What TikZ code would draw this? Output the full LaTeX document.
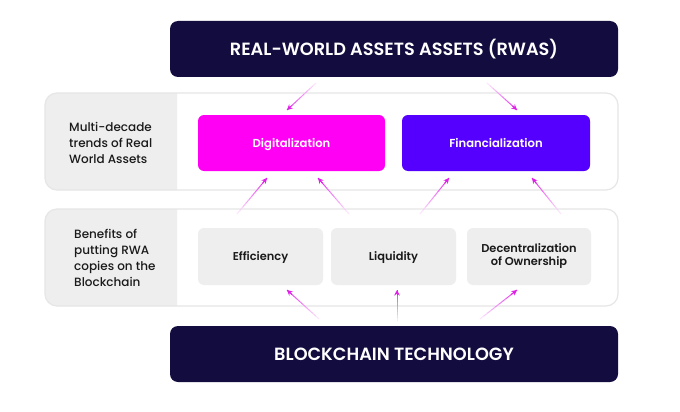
\documentclass[tikz,border=0pt]{standalone}
\usepackage{fontspec}
\setmainfont{Poppins}
\newfontfamily\pmed{Poppins Medium}
\newfontfamily\psemi{Poppins SemiBold}
\usetikzlibrary{arrows.meta,calc}
\definecolor{navy}{HTML}{130C3E}
\definecolor{magen}{HTML}{FF00F5}
\definecolor{violet}{HTML}{5500FF}
\definecolor{greyb}{HTML}{EEEEEE}
\definecolor{panelline}{HTML}{E6E6E6}
\definecolor{arrowc}{HTML}{E020E8}
\definecolor{txt}{HTML}{1A1A1A}
\newcommand\fadearrow[2]{%
  \foreach \i [evaluate=\i as \p using int(12+\i*9)] in {0,...,9}{%
    \draw[line width=1pt, draw=arrowc!\p!white] ($(#1)!\i/10!(#2)$) -- ($(#1)!{(\i+1)/10}!(#2)$);}
  \draw[-{Stealth[length=5.5pt,width=5.5pt]}, draw=arrowc, line width=1pt] ($(#1)!0.85!(#2)$) -- (#2);}
\tikzset{
  darkbox/.style={fill=navy, rounded corners=8pt, minimum width=448pt, minimum height=56pt, text=white, font=\psemi\fontsize{17.7}{20}\selectfont, inner sep=0pt, text height=12.5pt, text depth=0pt},
  trendbox/.style={rounded corners=6pt, minimum width=187pt, minimum height=56pt, text=white, font=\psemi\fontsize{11.6}{14}\selectfont, inner sep=0pt, text height=8.3pt, text depth=0pt},
  benbox/.style={fill=greyb, rounded corners=6pt, minimum width=125pt, minimum height=57pt, text=txt, font=\psemi\fontsize{11.4}{14}\selectfont, inner sep=0pt, align=center},
  sidelabel/.style={anchor=west, align=left, text=txt, font=\pmed\fontsize{12}{16}\selectfont, inner sep=0pt},
  panel/.style={draw=panelline, line width=1.2pt, rounded corners=12pt},
}
\begin{document}
\begin{tikzpicture}[x=1pt,y=-1pt]
\useasboundingbox[fill=white] (0,0) rectangle (680,412);
% panels
\fill[white, rounded corners=12pt] (45,93) rectangle (618,190);
\begin{scope}\clip (40,88) rectangle (177,195);
\fill[greyb, rounded corners=12pt] (45,93) rectangle (618,190);
\end{scope}
\draw[panel] (45,93) rectangle (618,190);
\fill[white, rounded corners=12pt] (45,209) rectangle (618,306);
\begin{scope}\clip (40,204) rectangle (177,311);
\fill[greyb, rounded corners=12pt] (45,209) rectangle (618,306);
\end{scope}
\draw[panel] (45,209) rectangle (618,306);
% labels
\node[sidelabel] (lab1) at (69,143) {Multi-decade\\trends of Real\\World Assets};
\node[sidelabel] (lab2) at (74,258) {Benefits of\\putting RWA\\copies on the\\Blockchain};
% boxes
\node[darkbox] (rwa) at (394,49) {REAL-WORLD ASSETS ASSETS (RWAS)};
\node[darkbox] (bc) at (394,354) {BLOCKCHAIN TECHNOLOGY};
\node[trendbox, fill=magen] (dig) at (291.5,143) {Digitalization};
\node[trendbox, fill=violet, minimum width=188pt] (fin) at (496,143) {Financialization};
\node[benbox, text height=8.2pt, text depth=0pt] (eff) at (260.5,256.5) {Efficiency};
\node[benbox, text height=8.2pt, text depth=0pt] (liq) at (393.5,256.5) {Liquidity};
\node[benbox, minimum width=124pt] (dec) at (529,256.5) {Decentralization\\[-1pt]of Ownership};
% arrow coordinates
\coordinate (a1t) at (316,83);  \coordinate (a1h) at (287,110);
\coordinate (a2t) at (487,83);  \coordinate (a2h) at (517,110);
\coordinate (b1t) at (237,214); \coordinate (b1h) at (267,178);
\coordinate (b2t) at (349,214); \coordinate (b2h) at (318,178);
\coordinate (b3t) at (420,214); \coordinate (b3h) at (449,178);
\coordinate (b4t) at (561,214); \coordinate (b4h) at (532,178);
\coordinate (c1t) at (319,319); \coordinate (c1h) at (287,290);
\coordinate (c2t) at (397,321); \coordinate (c2h) at (397,290);
\coordinate (c3t) at (480,319); \coordinate (c3h) at (517,290);
\fadearrow{a1t}{a1h}
\fadearrow{a2t}{a2h}
\fadearrow{b1t}{b1h}
\fadearrow{b2t}{b2h}
\fadearrow{b3t}{b3h}
\fadearrow{b4t}{b4h}
\fadearrow{c1t}{c1h}
\fadearrow{c2t}{c2h}
\fadearrow{c3t}{c3h}
% small downward shift of benefit texts is handled by node centres above
\end{tikzpicture}
\end{document}
